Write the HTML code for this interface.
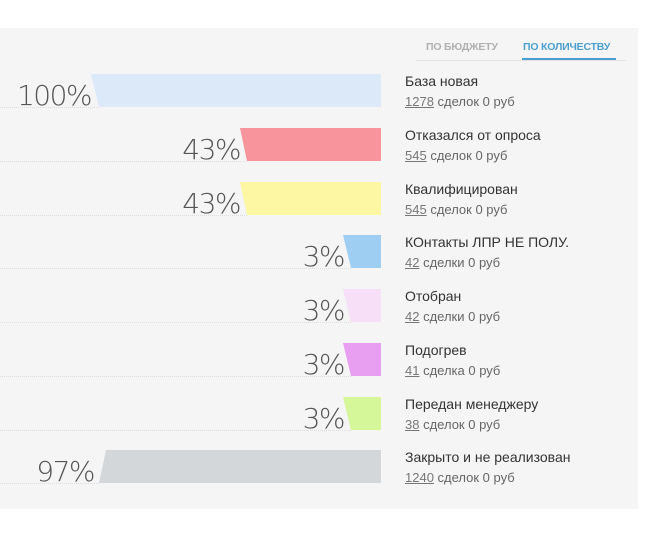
<!DOCTYPE html>
<html><head><meta charset="utf-8"><style>
body{margin:0;background:#fff;width:652px;height:536px;overflow:hidden;font-family:"Liberation Sans","DejaVu Sans",sans-serif}
#p{position:absolute;left:0;top:28px;width:638px;height:481px;background:#f5f5f5}
.t{position:absolute;font-size:10.5px;font-weight:bold;letter-spacing:-0.2px}
.pc{position:absolute;font-family:"DejaVu Sans ExtraLight","DejaVu Sans",sans-serif;font-size:28px;color:#555;font-weight:200;text-align:right;width:200px;letter-spacing:-1.5px}
.n{position:absolute;left:405px;font-size:14px;color:#333;white-space:nowrap;width:172px;overflow:hidden}
.s{position:absolute;left:405px;font-size:13px;color:#666}
.s u{color:#777}
</style></head><body>
<div id="p"></div>
<div class="t" style="left:426px;top:41px;color:#b0b0b0">ПО БЮДЖЕТУ</div>
<div class="t" style="left:523px;top:41px;color:#4a9fd0">ПО КОЛИЧЕСТВУ</div>
<div style="position:absolute;left:416px;top:60px;width:210px;height:1px;background:#e2e2e2"></div>
<div style="position:absolute;left:522px;top:58px;width:94px;height:2px;background:#4a9fd0"></div>
<svg width="652" height="536" style="position:absolute;left:0;top:0">
<g stroke="#ddd" stroke-dasharray="1,1">
<line x1="0" y1="107.5" x2="99" y2="107.5"/>
<line x1="0" y1="161.5" x2="247" y2="161.5"/>
<line x1="0" y1="215.5" x2="247" y2="215.5"/>
<line x1="0" y1="268.5" x2="351" y2="268.5"/>
<line x1="0" y1="322.5" x2="351" y2="322.5"/>
<line x1="0" y1="376.5" x2="351" y2="376.5"/>
<line x1="0" y1="430.5" x2="351" y2="430.5"/>
<line x1="0" y1="483.5" x2="99" y2="483.5"/>
</g>
<polygon points="91,74 381,74 381,107 99,107" fill="#dbe9f8"/>
<polygon points="240,128 381,128 381,161 247,161" fill="#f8949b"/>
<polygon points="240,182 381,182 381,215 247,215" fill="#fdf7a4"/>
<polygon points="343,235 381,235 381,268 351,268" fill="#9ecff3"/>
<polygon points="343,289 381,289 381,322 351,322" fill="#f6dff7"/>
<polygon points="343,343 381,343 381,376 351,376" fill="#e89ff1"/>
<polygon points="343,397 381,397 381,430 351,430" fill="#d5f79a"/>
<polygon points="106,450 381,450 381,483 99,483" fill="#d4d7da"/>
</svg>
<div class="pc" style="left:-109px;top:79px">100%</div>
<div class="pc" style="left:40px;top:133px">43%</div>
<div class="pc" style="left:40px;top:187px">43%</div>
<div class="pc" style="left:144px;top:240px">3%</div>
<div class="pc" style="left:144px;top:294px">3%</div>
<div class="pc" style="left:144px;top:348px">3%</div>
<div class="pc" style="left:144px;top:402px">3%</div>
<div class="pc" style="left:-106px;top:455px">97%</div>
<div class="n" style="top:73px">База новая</div><div class="s" style="top:94px"><u>1278</u> сделок 0 руб</div>
<div class="n" style="top:127px">Отказался от опроса</div><div class="s" style="top:148px"><u>545</u> сделок 0 руб</div>
<div class="n" style="top:181px">Квалифицирован</div><div class="s" style="top:202px"><u>545</u> сделок 0 руб</div>
<div class="n" style="top:234px">КОнтакты ЛПР НЕ ПОЛУ.</div><div class="s" style="top:255px"><u>42</u> сделки 0 руб</div>
<div class="n" style="top:288px">Отобран</div><div class="s" style="top:309px"><u>42</u> сделки 0 руб</div>
<div class="n" style="top:342px">Подогрев</div><div class="s" style="top:363px"><u>41</u> сделка 0 руб</div>
<div class="n" style="top:396px">Передан менеджеру</div><div class="s" style="top:417px"><u>38</u> сделок 0 руб</div>
<div class="n" style="top:449px">Закрыто и не реализован</div><div class="s" style="top:470px"><u>1240</u> сделок 0 руб</div>
</body></html>
